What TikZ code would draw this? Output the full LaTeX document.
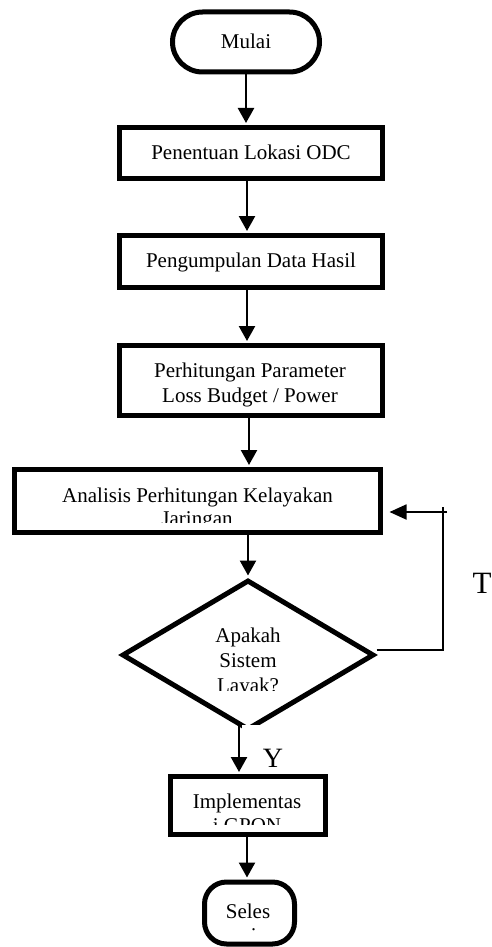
\documentclass[tikz,border=0pt]{standalone}
\usepackage{fontspec}
\setmainfont{Liberation Serif}
\usetikzlibrary{arrows.meta,shapes.geometric}
\begin{document}
\begin{tikzpicture}[x=1pt,y=-1pt,
  box/.style={draw, line width=5pt, fill=white, inner sep=0pt},
  term/.style={draw, line width=5pt, fill=white, inner sep=0pt},
  arr/.style={line width=2.4pt, -{Triangle[width=16pt,length=15pt]}, shorten >=2pt},
  fb/.style={line width=1.8pt},
  txt/.style={font=\fontsize{21}{24}\selectfont, inner sep=0pt, anchor=base},
  big/.style={inner sep=0pt, anchor=base}]
\useasboundingbox (0,0) rectangle (492,947);
% shapes
\node[term, rounded corners=30pt, minimum width=147pt, minimum height=60pt] (mulai) at (246,42) {};
\node[box, minimum width=263pt, minimum height=51pt] (lok) at (251,153) {};
\node[box, minimum width=263pt, minimum height=52pt] (data) at (251,261.5) {};
\node[box, minimum width=263pt, minimum height=70pt] (param) at (251,380.5) {};
\node[box, minimum width=366pt, minimum height=63pt] (ana) at (197.5,501) {};
\node[draw, diamond, line width=5pt, inner sep=0pt, minimum width=252pt, minimum height=150pt] (dec) at (248,655) {};
\node[box, minimum width=155pt, minimum height=58pt] (impl) at (248,805.5) {};
\node[term, rounded corners=22pt, minimum width=90pt, minimum height=62pt] (sel) at (249.5,913) {};
% white frame of the Y label covering the diamond's bottom tip
\node[fill=white, inner sep=0pt, minimum width=58pt, minimum height=45pt, anchor=north west] (yframe) at (242,725) {};
% texts
\node[txt] (tmulai) at (246,49) {Mulai};
\node[txt] (tlok) at (251,159) {Penentuan Lokasi ODC};
\node[txt] (tdata) at (251,267) {Pengumpulan Data Hasil};
\node[txt] (tparam1) at (250,377) {Perhitungan Parameter};
\node[txt] (tparam2) at (250,402) {Loss Budget / Power};
\node[txt] (tana1) at (197.5,502) {Analisis Perhitungan Kelayakan};
\begin{scope}
\clip (0,470) rectangle (492,522);
\node[txt] (tana2) at (197,525) {Jaringan};
\end{scope}
\node[txt] (tdec1) at (248,642) {Apakah};
\node[txt] (tdec2) at (248,667) {Sistem};
\begin{scope}
\clip (0,670) rectangle (492,690);
\node[txt] (tdec3) at (248,692) {Layak?};
\end{scope}
\node[txt] (timpl1) at (247,808) {Implementas};
\begin{scope}
\clip (0,812) rectangle (492,824);
\node[txt] (timpl2) at (247,832) {i GPON};
\end{scope}
\node[txt] (tsel1) at (248,918) {Seles};
\begin{scope}
\clip (0,922) rectangle (492,930);
\node[txt] (tsel2) at (249,942) {ai};
\end{scope}
\node[big, font=\fontsize{28}{30}\selectfont] (ylab) at (273,767) {Y};
\node[big, font=\fontsize{31}{33}\selectfont] (tlab) at (482,593) {T};
% connectors
\coordinate (p1) at (246,72);
\coordinate (p2) at (247,178);
\coordinate (p3) at (247,287);
\coordinate (p4) at (249,415);
\draw[arr] (p1) -- (p1 |- lok.north);
\draw[arr] (p2) -- (p2 |- data.north);
\draw[arr] (p3) -- (p3 |- param.north);
\draw[arr] (p4) -- (p4 |- ana.north);
\draw[arr] (ana.south -| dec.north) -- (dec.north);
\coordinate (ystart) at (239,726);
\draw[arr] (ystart) -- (ystart |- impl.north);
\coordinate (p7) at (247,834);
\draw[arr] (p7) -- (p7 |- sel.north);
\coordinate (fbA) at (443,650);
\coordinate (fbB) at (443,507);
\coordinate (fbC) at (447,512);
\draw[fb] (dec.east |- fbA) -- (fbA) -- (fbB);
\draw[fb, -{Triangle[width=15pt,length=17pt]}, shorten >=6.5pt] (fbC) -- (ana.east |- fbC);
\end{tikzpicture}
\end{document}
